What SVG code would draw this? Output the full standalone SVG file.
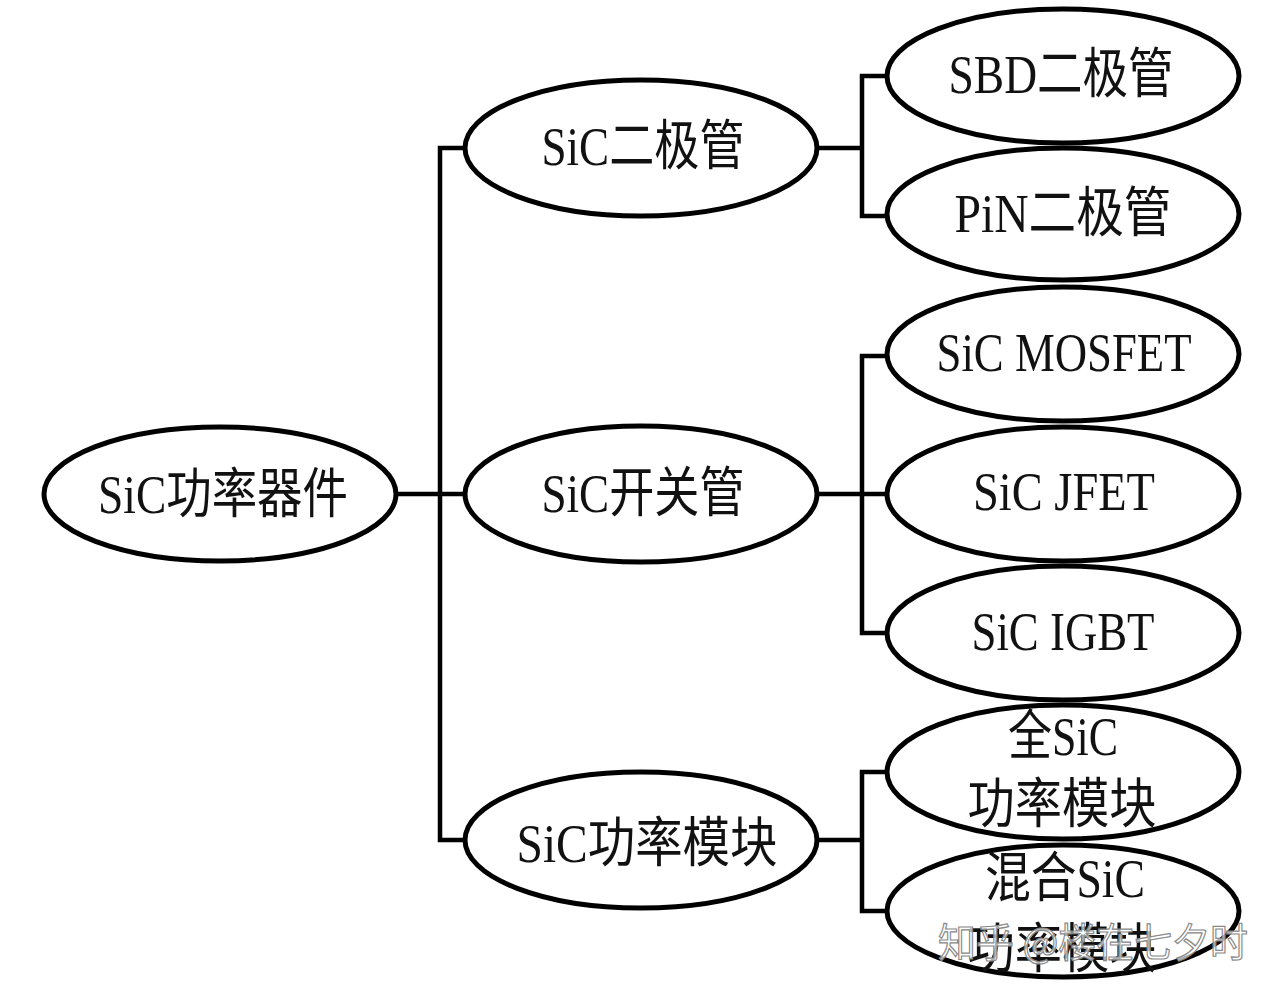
<svg xmlns="http://www.w3.org/2000/svg" width="1282" height="992" viewBox="0 0 1282 992">
<style>
.n{fill:#fff;stroke:#000;stroke-width:5}
.t{font-family:'Liberation Serif','Noto Sans CJK SC',serif;font-size:54px;fill:#111;text-anchor:middle}
.c{stroke:#000;stroke-width:4.5;fill:none}
.w{font-family:'Noto Sans CJK SC',sans-serif;font-size:40px;fill:#fff;fill-opacity:0.7;stroke:#888;stroke-width:1.2;text-anchor:middle}
</style>
<rect width="1282" height="992" fill="#fff"/>
<g id="connectors" class="c">
<path d="M396 494H465"/>
<path d="M465 148H440V840H465"/>
<path d="M817 148H862"/>
<path d="M887 76H862V216H887"/>
<path d="M817 494H887"/>
<path d="M887 356H862V633H887"/>
<path d="M817 840H862"/>
<path d="M887 772H862V911H887"/>
</g>
<g id="root"><ellipse class="n" cx="220" cy="494" rx="176" ry="67"/><text class="t" x="223" y="513" textLength="250" lengthAdjust="spacingAndGlyphs">SiC功率器件</text></g>
<g id="diode"><ellipse class="n" cx="641" cy="148" rx="176" ry="68"/><text class="t" x="643" y="165" textLength="203" lengthAdjust="spacingAndGlyphs">SiC二极管</text></g>
<g id="switch"><ellipse class="n" cx="641" cy="494" rx="176" ry="68"/><text class="t" x="643" y="512" textLength="203" lengthAdjust="spacingAndGlyphs">SiC开关管</text></g>
<g id="module"><ellipse class="n" cx="641" cy="840" rx="176" ry="68"/><text class="t" x="647" y="862" textLength="261" lengthAdjust="spacingAndGlyphs">SiC功率模块</text></g>
<g id="sbd"><ellipse class="n" cx="1063" cy="76" rx="176" ry="67"/><text class="t" x="1061" y="93" textLength="225" lengthAdjust="spacingAndGlyphs">SBD二极管</text></g>
<g id="pin"><ellipse class="n" cx="1063" cy="214" rx="176" ry="66"/><text class="t" x="1063" y="232" textLength="217" lengthAdjust="spacingAndGlyphs">PiN二极管</text></g>
<g id="mosfet"><ellipse class="n" cx="1063" cy="354" rx="176" ry="67"/><text class="t" x="1064" y="371" textLength="255" lengthAdjust="spacingAndGlyphs">SiC MOSFET</text></g>
<g id="jfet"><ellipse class="n" cx="1063" cy="494" rx="176" ry="67"/><text class="t" x="1064" y="510" textLength="182" lengthAdjust="spacingAndGlyphs">SiC JFET</text></g>
<g id="igbt"><ellipse class="n" cx="1063" cy="633" rx="176" ry="67"/><text class="t" x="1063" y="650" textLength="183" lengthAdjust="spacingAndGlyphs">SiC IGBT</text></g>
<g id="fullsic"><ellipse class="n" cx="1063" cy="772" rx="176" ry="67"/><text class="t" x="1063" y="755" textLength="110" lengthAdjust="spacingAndGlyphs">全SiC</text><text class="t" x="1062" y="823" textLength="189" lengthAdjust="spacingAndGlyphs">功率模块</text></g>
<g id="hybrid"><ellipse class="n" cx="1063" cy="911" rx="176" ry="66"/><text class="t" x="1065" y="897" textLength="160" lengthAdjust="spacingAndGlyphs">混合SiC</text><text class="t" x="1062" y="968" textLength="189" lengthAdjust="spacingAndGlyphs">功率模块</text></g>
<text class="w" x="1093" y="957" textLength="310" lengthAdjust="spacingAndGlyphs">知乎 @楼在七夕时</text>
</svg>
